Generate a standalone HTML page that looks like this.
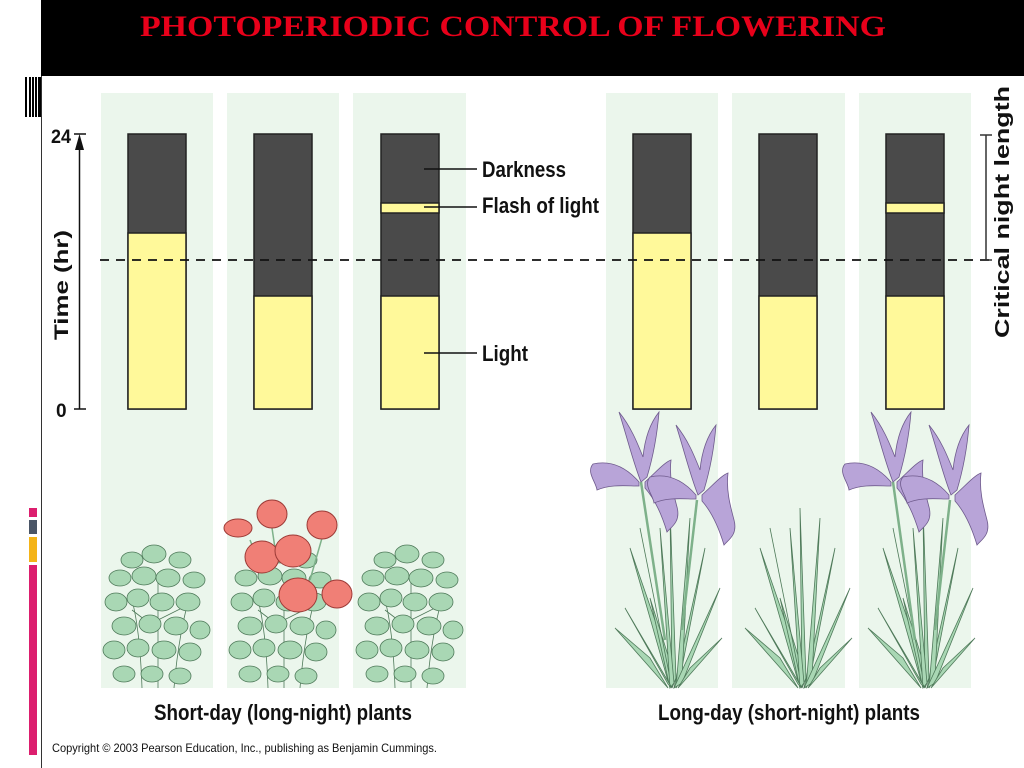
<!DOCTYPE html>
<html><head><meta charset="utf-8"><style>
html,body{margin:0;padding:0;background:#fff;}
svg{display:block;}
</style></head><body>
<svg width="1024" height="768" viewBox="0 0 1024 768" xmlns="http://www.w3.org/2000/svg">
<defs>
<g id="leafy">
  <g stroke="#4f7a5a" stroke-width="0.8" fill="none">
    <path d="M56 148 L56 40 M40 148 Q38 90 30 60 M72 148 Q76 100 86 62 M56 90 L30 70 M56 80 L84 66"/>
  </g>
  <g fill="#a9d7b4" stroke="#4f7a5a" stroke-width="0.8">
    <ellipse cx="30" cy="20" rx="11" ry="8"/><ellipse cx="52" cy="14" rx="12" ry="9"/><ellipse cx="78" cy="20" rx="11" ry="8"/>
    <ellipse cx="18" cy="38" rx="11" ry="8"/><ellipse cx="42" cy="36" rx="12" ry="9"/><ellipse cx="66" cy="38" rx="12" ry="9"/><ellipse cx="92" cy="40" rx="11" ry="8"/>
    <ellipse cx="14" cy="62" rx="11" ry="9"/><ellipse cx="36" cy="58" rx="11" ry="9"/><ellipse cx="60" cy="62" rx="12" ry="9"/><ellipse cx="86" cy="62" rx="12" ry="9"/>
    <ellipse cx="22" cy="86" rx="12" ry="9"/><ellipse cx="48" cy="84" rx="11" ry="9"/><ellipse cx="74" cy="86" rx="12" ry="9"/><ellipse cx="98" cy="90" rx="10" ry="9"/>
    <ellipse cx="12" cy="110" rx="11" ry="9"/><ellipse cx="36" cy="108" rx="11" ry="9"/><ellipse cx="62" cy="110" rx="12" ry="9"/><ellipse cx="88" cy="112" rx="11" ry="9"/>
    <ellipse cx="22" cy="134" rx="11" ry="8"/><ellipse cx="50" cy="134" rx="11" ry="8"/><ellipse cx="78" cy="136" rx="11" ry="8"/>
  </g>
</g>
<g id="grass" fill="#a9d7b4" stroke="#4f7a5a" stroke-width="0.8">
  <path d="M60 200 L20 60 L58 170 Z"/>
  <path d="M60 200 L40 110 L62 180 Z"/>
  <path d="M62 200 L60 20 L66 190 Z"/>
  <path d="M64 200 L95 60 L70 190 Z"/>
  <path d="M62 200 L30 40 L60 190 Z"/>
  <path d="M66 200 L80 30 L72 190 Z"/>
  <path d="M64 200 L110 100 L72 195 Z"/>
  <path d="M60 200 L50 40 L64 195 Z"/>
  <path d="M62 200 L15 120 L58 196 Z"/>
  <path d="M58 200 L5 140 L40 170 Z"/>
  <path d="M68 200 L112 150 L80 180 Z"/>
</g>
<g id="iris" fill="#b8a4d8" stroke="#6e5a8c" stroke-width="0.8">
  <path d="M0 0 C-8 -20 -14 -45 -22 -70 C-10 -55 -4 -40 2 -25 C4 -45 10 -60 18 -70 C16 -45 12 -25 6 -5 Z"/>
  <path d="M-2 0 C-15 -15 -30 -22 -48 -18 C-55 -10 -45 0 -44 8 C-30 2 -15 4 -2 4 Z"/>
  <path d="M4 0 C15 -10 24 -20 30 -22 C28 -5 32 10 36 25 C40 40 30 45 26 50 C20 30 12 15 4 6 Z"/>
</g>
</defs>

<!-- header -->
<rect x="41" y="0" width="983" height="76" fill="#000"/>
<text x="140" y="36" font-family="Liberation Serif, serif" font-weight="bold" font-size="30" fill="#e8001a" textLength="746" lengthAdjust="spacingAndGlyphs">PHOTOPERIODIC CONTROL OF FLOWERING</text>
<line x1="41.5" y1="76" x2="41.5" y2="768" stroke="#333" stroke-width="1"/>
<g fill="#000">
  <rect x="25" y="77" width="2" height="40"/><rect x="29" y="77" width="2" height="40"/><rect x="32" y="77" width="2" height="40"/><rect x="35" y="77" width="2" height="40"/><rect x="38" y="77" width="3" height="40"/>
</g>
<rect x="29" y="508" width="8" height="9" fill="#dc1e6e"/>
<rect x="29" y="520" width="8" height="14" fill="#4a5566"/>
<rect x="29" y="537" width="8" height="25" fill="#f4b418"/>
<rect x="29" y="565" width="8" height="190" fill="#dc1e6e"/>

<!-- panels -->
<g fill="#ebf6ec">
  <rect x="101" y="93" width="112" height="595"/><rect x="227" y="93" width="112" height="595"/><rect x="353" y="93" width="113" height="595"/>
  <rect x="606" y="93" width="112" height="595"/><rect x="732" y="93" width="113" height="595"/><rect x="859" y="93" width="112" height="595"/>
</g>

<!-- bars -->
<g stroke="#222" stroke-width="1.5">
  <rect x="128" y="134" width="58" height="275" fill="#4a4a4a"/><rect x="128" y="233" width="58" height="176" fill="#fff99a"/>
  <rect x="254" y="134" width="58" height="275" fill="#4a4a4a"/><rect x="254" y="296" width="58" height="113" fill="#fff99a"/>
  <rect x="381" y="134" width="58" height="275" fill="#4a4a4a"/><rect x="381" y="296" width="58" height="113" fill="#fff99a"/><rect x="381" y="203" width="58" height="10" fill="#fff99a"/>
  <rect x="633" y="134" width="58" height="275" fill="#4a4a4a"/><rect x="633" y="233" width="58" height="176" fill="#fff99a"/>
  <rect x="759" y="134" width="58" height="275" fill="#4a4a4a"/><rect x="759" y="296" width="58" height="113" fill="#fff99a"/>
  <rect x="886" y="134" width="58" height="275" fill="#4a4a4a"/><rect x="886" y="296" width="58" height="113" fill="#fff99a"/><rect x="886" y="203" width="58" height="10" fill="#fff99a"/>
</g>

<!-- dashed line -->
<line x1="100" y1="260" x2="990" y2="260" stroke="#111" stroke-width="1.8" stroke-dasharray="9,7"/>

<!-- callouts -->
<g stroke="#111" stroke-width="1.5">
  <line x1="424" y1="169" x2="477" y2="169"/><line x1="424" y1="207" x2="477" y2="207"/><line x1="424" y1="353" x2="477" y2="353"/>
</g>
<g font-family="Liberation Sans, sans-serif" font-weight="bold" font-size="22" fill="#111">
  <text x="482" y="177" textLength="84" lengthAdjust="spacingAndGlyphs">Darkness</text>
  <text x="482" y="213" textLength="117" lengthAdjust="spacingAndGlyphs">Flash of light</text>
  <text x="482" y="361" textLength="46" lengthAdjust="spacingAndGlyphs">Light</text>
</g>

<!-- critical bracket -->
<g stroke="#333" stroke-width="1.5"><line x1="986" y1="135" x2="986" y2="260"/><line x1="980" y1="135" x2="992" y2="135"/><line x1="980" y1="260" x2="992" y2="260"/></g>
<text transform="translate(1009,338) rotate(-90)" font-family="Liberation Sans, sans-serif" font-weight="bold" font-size="20" fill="#111" textLength="252" lengthAdjust="spacingAndGlyphs">Critical night length</text>

<!-- axis -->
<line x1="79.5" y1="140" x2="79.5" y2="409" stroke="#111" stroke-width="1.5"/>
<path d="M79.5 134 L75 150 L84 150 Z" fill="#111"/>
<line x1="74" y1="134" x2="86" y2="134" stroke="#111" stroke-width="1.5"/>
<line x1="74" y1="409" x2="86" y2="409" stroke="#111" stroke-width="1.5"/>
<g font-family="Liberation Sans, sans-serif" font-weight="bold" font-size="19" fill="#111">
  <text x="51" y="143" textLength="20" lengthAdjust="spacingAndGlyphs">24</text>
  <text x="56" y="417">0</text>
  <text transform="translate(68,340) rotate(-90)" textLength="110" lengthAdjust="spacingAndGlyphs">Time (hr)</text>
</g>

<!-- short-day plants -->
<use href="#leafy" x="102" y="540"/>
<use href="#leafy" x="228" y="540"/>
<use href="#leafy" x="355" y="540"/>
<g stroke="#7eb18a" stroke-width="1.5" fill="none">
  <path d="M262 570 L250 540"/><path d="M272 528 L276 555"/><path d="M322 538 L310 580"/>
</g>
<g fill="#f07f76" stroke="#9c3a36" stroke-width="1">
  <ellipse cx="238" cy="528" rx="14" ry="9"/>
  <ellipse cx="272" cy="514" rx="15" ry="14"/>
  <ellipse cx="322" cy="525" rx="15" ry="14"/>
  <ellipse cx="262" cy="557" rx="17" ry="16"/>
  <ellipse cx="293" cy="551" rx="18" ry="16"/>
  <ellipse cx="298" cy="595" rx="19" ry="17"/>
  <ellipse cx="337" cy="594" rx="15" ry="14"/>
</g>

<!-- long-day plants -->
<use href="#grass" x="610" y="488"/>
<use href="#grass" x="740" y="488"/>
<use href="#grass" x="863" y="488"/>
<g stroke="#7eb18a" stroke-width="2.5" fill="none">
  <path d="M641 482 L665 640"/><path d="M697 500 L682 630"/>
  <path d="M893 482 L915 640"/><path d="M950 500 L935 630"/>
</g>
<use href="#iris" x="641" y="482"/>
<use href="#iris" x="698" y="495"/>
<use href="#iris" x="893" y="482"/>
<use href="#iris" x="951" y="495"/>

<!-- captions -->
<g font-family="Liberation Sans, sans-serif" font-size="22" font-weight="bold" fill="#111">
  <text x="154" y="720" textLength="258" lengthAdjust="spacingAndGlyphs">Short-day (long-night) plants</text>
  <text x="658" y="720" textLength="262" lengthAdjust="spacingAndGlyphs">Long-day (short-night) plants</text>
</g>
<text x="52" y="752" font-family="Liberation Sans, sans-serif" font-size="12" fill="#111" textLength="385" lengthAdjust="spacingAndGlyphs">Copyright © 2003 Pearson Education, Inc., publishing as Benjamin Cummings.</text>
</svg>
</body></html>
